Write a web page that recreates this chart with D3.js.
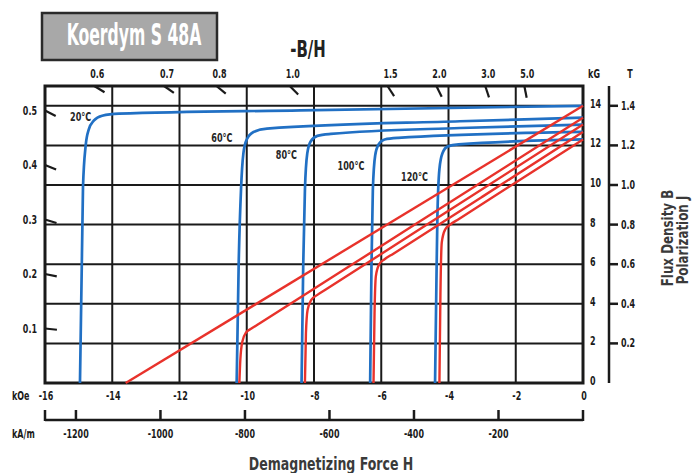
<!DOCTYPE html>
<html><head><meta charset="utf-8">
<script src="https://cdn.jsdelivr.net/npm/d3@7"></script>
<style>
html,body{margin:0;padding:0;background:#fff;}
svg text{font-family:'DejaVu Sans Condensed','Liberation Sans Narrow','Roboto',sans-serif;font-weight:bold;}
</style></head><body>
<svg id="c" width="699" height="473"></svg>
<script>
// ---------- data ----------
const hTicksKOe = [-16,-14,-12,-10,-8,-6,-4,-2,0];
const bTicksKG  = [0,2,4,6,8,10,12,14];
const jTicksT   = [0.2,0.4,0.6,0.8,1.0,1.2,1.4];
const hTicksKAm = [-1200,-1000,-800,-600,-400,-200];
const bhTopTicks  = [0.6,0.7,0.8,1.0,1.5,2.0,3.0,5.0];
const bhLeftTicks = [0.1,0.2,0.3,0.4,0.5];
const bhFactor = 1.72;          // kG per kOe for one unit of the -B/H scale
const kAmPerKOe = 79.577;
const temps = ["20°C","60°C","80°C","100°C","120°C"];
const tempLabelAt = [[-14.94,13.44],[-10.74,12.37],[-8.82,11.52],[-6.9,10.96],[-5.01,10.4]];

// polarization J curves (H kOe, J kG)
const j20  = [[-14.96,0],[-14.87,9.9],[-14.79,12.0],[-14.7,12.8],[-14.55,13.25],[-14.3,13.5],[-13.8,13.6],[-8.4,13.77],[0,14.0]];
const j60  = [[-10.3,0],[-10.24,6],[-10.17,9.8],[-10.1,11.6],[-10.0,12.3],[-9.8,12.68],[-9.4,12.85],[-3.66,13.22],[0,13.4]];
const j80  = [[-8.37,0],[-8.32,6],[-8.27,9.75],[-8.2,11.6],[-8.1,12.2],[-7.9,12.48],[-7.5,12.58],[-3.66,12.88],[0,13.05]];
const j100 = [[-6.33,0],[-6.29,6],[-6.25,9.75],[-6.18,11.5],[-6.08,12.05],[-5.9,12.3],[-5.5,12.38],[0,12.68]];
const j120 = [[-4.4,0],[-4.36,5],[-4.33,8.4],[-4.27,10.8],[-4.18,11.6],[-4.02,11.95],[-3.7,12.05],[0,12.3]];
// flux density B curves (H kOe, B kG)
const b20  = [[-13.6,0],[0,14.0]];
const b60  = [[-10.22,0],[-10.19,1.2],[-10.13,2.1],[-10.02,2.55],[-9.85,2.76],[-9.6,3.03],[-5,8.0],[0,13.4]];
const b80  = [[-8.27,0],[-8.24,2.5],[-8.19,3.7],[-8.08,4.2],[-7.9,4.45],[-7.65,4.72],[-4,8.7],[0,13.05]];
const b100 = [[-6.23,0],[-6.2,3.5],[-6.16,5.4],[-6.06,6.0],[-5.9,6.25],[-5.65,6.52],[-3,9.4],[0,12.68]];
const b120 = [[-4.27,0],[-4.24,4.5],[-4.2,7.1],[-4.1,7.75],[-3.95,8.0],[-3.7,8.27],[-2,10.13],[0,12.3]];
const jCurves = [j20,j60,j80,j100,j120];
const bCurves = [b20,b60,b80,b100,b120];

// ---------- drawing ----------
const svg = d3.select("#c");
const H0=-16, H1=0, Bmax=15;
const x = d3.scaleLinear().domain([H0,H1]).range([45,583]);
const y = d3.scaleLinear().domain([0,Bmax]).range([383,86]);
const xA = d3.scaleLinear().domain([H0*kAmPerKOe, 0]).range([45,583]);
const yT = d3.scaleLinear().domain([0,1.5]).range([383,86]);
const ink = "#1a1a1a";
const blue = "#2170c4", red = "#e8322b";
const SX = 0.74; // horizontal squeeze for the condensed lettering
const tr = (px,py,s)=>`translate(${px},${py}) scale(${s||SX},1)`;

// grid
svg.append("g").selectAll("line").data(hTicksKOe).join("line")
  .attr("x1",d=>x(d)).attr("x2",d=>x(d)).attr("y1",y(0)).attr("y2",y(Bmax))
  .attr("stroke",ink).attr("stroke-width",2);
svg.append("g").selectAll("line").data(bTicksKG).join("line")
  .attr("x1",x(H0)).attr("x2",x(H1)).attr("y1",d=>y(d)).attr("y2",d=>y(d))
  .attr("stroke",ink).attr("stroke-width",2);
svg.append("rect").attr("x",x(H0)).attr("y",y(Bmax)).attr("width",x(H1)-x(H0)).attr("height",y(0)-y(Bmax))
  .attr("fill","none").attr("stroke",ink).attr("stroke-width",3);

// -B/H marks
const ox = x(0), oy = y(0);
function markAt(px,py,len){
  const dx=ox-px, dy=oy-py, L=Math.hypot(dx,dy);
  return [px,py,px+dx/L*len,py+dy/L*len];
}
const topPts = bhTopTicks.map(p=>({p, px:x(-Bmax/(bhFactor*p)), py:y(Bmax)}));
const leftPts = bhLeftTicks.map(p=>({p, px:x(H0), py:y(-H0*bhFactor*p)}));
svg.append("g").selectAll("line").data(topPts.concat(leftPts)).join("line")
  .each(function(d){const m=markAt(d.px,d.py,12);d3.select(this).attr("x1",m[0]).attr("y1",m[1]).attr("x2",m[2]).attr("y2",m[3]);})
  .attr("stroke",ink).attr("stroke-width",2.2);
svg.append("g").selectAll("text").data(topPts).join("text")
  .attr("transform",d=>tr(d.px+3,78)).attr("text-anchor","middle").attr("font-size",12).attr("fill",ink)
  .text(d=>d.p.toFixed(1));
svg.append("g").selectAll("text").data(leftPts).join("text")
  .attr("transform",d=>tr(37,d.py+4)).attr("text-anchor","end").attr("font-size",12).attr("fill",ink)
  .text(d=>d.p.toFixed(1));

// curves
const line = d3.line().x(d=>x(d[0])).y(d=>y(d[1])).curve(d3.curveMonotoneX);
svg.append("g").selectAll("path").data(jCurves).join("path")
  .attr("d",line).attr("fill","none").attr("stroke",blue).attr("stroke-width",2.7);
svg.append("g").selectAll("path").data(bCurves).join("path")
  .attr("d",line).attr("fill","none").attr("stroke",red).attr("stroke-width",2.4);

// temperature labels
svg.append("g").selectAll("text").data(temps).join("text")
  .attr("transform",(d,i)=>tr(x(tempLabelAt[i][0]),y(tempLabelAt[i][1])+4,0.72))
  .attr("text-anchor","middle").attr("font-size",12.5).attr("fill","#262626").text(d=>d);

// right kG labels
svg.append("g").selectAll("text").data(bTicksKG).join("text")
  .attr("transform",d=>tr(590,y(d)+2)).attr("font-size",12).attr("fill",ink).text(d=>d);
svg.append("text").attr("transform",tr(594,78)).attr("text-anchor","middle").attr("font-size",12).attr("fill",ink).text("kG");
svg.append("text").attr("transform",tr(630,78)).attr("text-anchor","middle").attr("font-size",12).attr("fill",ink).text("T");
// T axis
svg.append("line").attr("x1",609).attr("x2",609).attr("y1",yT(1.5)).attr("y2",yT(0)).attr("stroke",ink).attr("stroke-width",2.5);
svg.append("g").selectAll("line").data(jTicksT).join("line")
  .attr("x1",609).attr("x2",618).attr("y1",d=>yT(d)).attr("y2",d=>yT(d)).attr("stroke",ink).attr("stroke-width",2.5);
svg.append("g").selectAll("text").data(jTicksT).join("text")
  .attr("transform",d=>tr(621,yT(d)+4)).attr("font-size",12).attr("fill",ink).text(d=>d.toFixed(1));

// bottom kOe labels
svg.append("g").selectAll("text").data(hTicksKOe).join("text")
  .attr("transform",d=>tr(x(d)+1,400)).attr("text-anchor","middle").attr("font-size",12).attr("fill",ink).text(d=>d);
svg.append("text").attr("transform",tr(12,400)).attr("font-size",12).attr("fill",ink).text("kOe");

// kA/m axis
const yA = 420;
svg.append("line").attr("x1",xA(H0*kAmPerKOe)).attr("x2",xA(0)).attr("y1",yA).attr("y2",yA).attr("stroke",ink).attr("stroke-width",2.5);
svg.append("g").selectAll("line").data(hTicksKAm.concat([H0*kAmPerKOe,0])).join("line")
  .attr("x1",d=>xA(d)).attr("x2",d=>xA(d)).attr("y1",yA+1).attr("y2",yA-10).attr("stroke",ink).attr("stroke-width",2.5);
svg.append("g").selectAll("text").data(hTicksKAm).join("text")
  .attr("transform",d=>tr(xA(d),438)).attr("text-anchor","middle").attr("font-size",12).attr("fill",ink).text(d=>d);
svg.append("text").attr("transform",tr(12,438)).attr("font-size",12).attr("fill",ink).text("kA/m");

// axis titles
svg.append("text").attr("transform",tr(331,470,0.82)).attr("text-anchor","middle").attr("font-size",17)
  .attr("fill","#3a3a3a").text("Demagnetizing Force H");
svg.append("text").attr("transform","translate(673,238) rotate(-90) scale(0.8,1)").attr("text-anchor","middle").attr("font-size",16.5)
  .attr("fill","#3a3a3a").text("Flux Density B");
svg.append("text").attr("transform","translate(688,240) rotate(-90) scale(0.8,1)").attr("text-anchor","middle").attr("font-size",16.5)
  .attr("fill","#3a3a3a").text("Polarization J");

// title box
svg.append("rect").attr("x",42).attr("y",13).attr("width",175).attr("height",47)
  .attr("fill","#a8a8a8").attr("stroke","#2a2a2a").attr("stroke-width",2.5);
svg.append("text").attr("transform",tr(134,45,0.58)).attr("text-anchor","middle").attr("font-size",30)
  .attr("fill","#fff").text("Koerdym S 48A");
svg.append("text").attr("transform",tr(308,57,0.72)).attr("text-anchor","middle").attr("font-size",23)
  .attr("fill","#222").text("-B/H");
</script>
</body></html>
